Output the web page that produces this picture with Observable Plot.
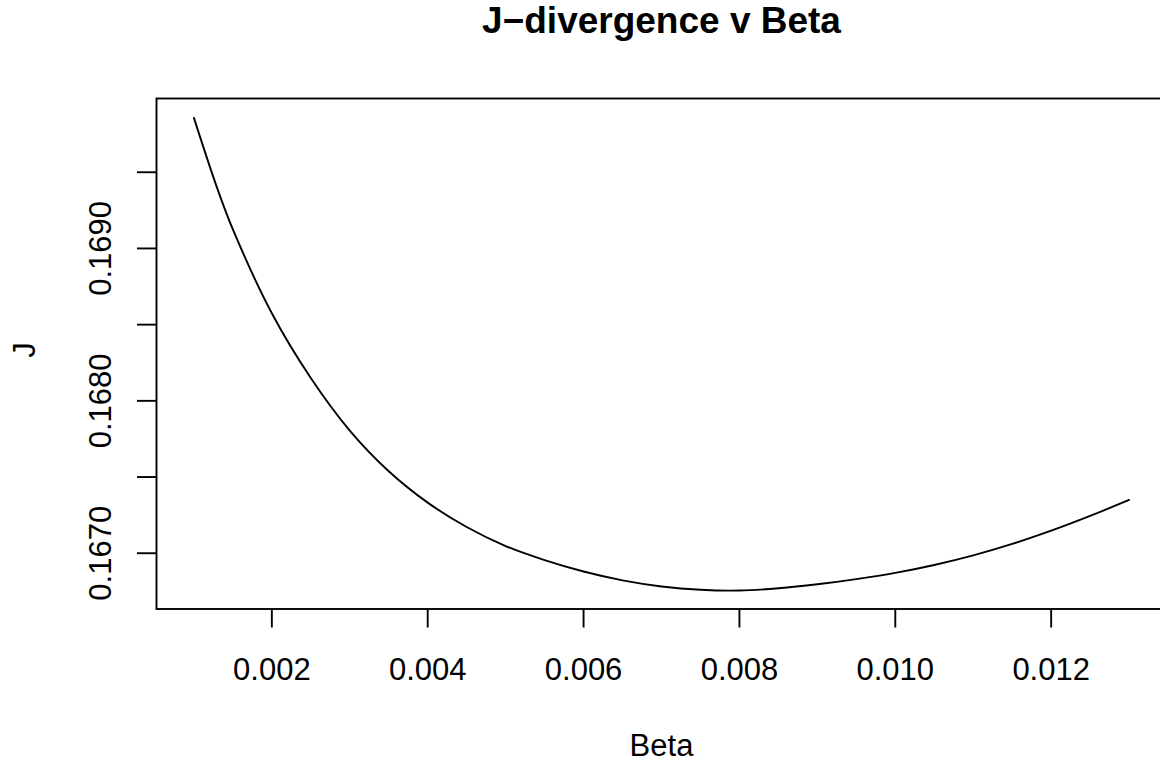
<!DOCTYPE html>
<html>
<head>
<meta charset="utf-8">
<script src="https://cdn.jsdelivr.net/npm/d3@7"></script>
<script src="https://cdn.jsdelivr.net/npm/@observablehq/plot@0.6"></script>
<style>
  html, body { margin: 0; padding: 0; background: white; overflow: hidden; }
  #chart { width: 1160px; height: 761px; overflow: hidden; }
</style>
</head>
<body>
<div id="chart"></div>
<script>
// Data
const beta = [0.0010, 0.0013, 0.0015, 0.0020, 0.0025, 0.0030, 0.0035, 0.0040, 0.0045, 0.0050,
              0.0055, 0.0060, 0.0065, 0.0070, 0.0075, 0.0080, 0.0085, 0.0090, 0.0095, 0.0100,
              0.0105, 0.0110, 0.0115, 0.0120, 0.0125, 0.0130];
const jValues = [0.169857, 0.169394, 0.169125, 0.168575, 0.168150, 0.167805, 0.167538, 0.167332, 0.167172, 0.167047,
                 0.166955, 0.166880, 0.166822, 0.166782, 0.166760, 0.166755, 0.166770, 0.166796, 0.166830, 0.166871,
                 0.166923, 0.166986, 0.167061, 0.167148, 0.167245, 0.167350];
const xTicks = [0.002, 0.004, 0.006, 0.008, 0.010, 0.012];
const yTicks = [0.1670, 0.1675, 0.1680, 0.1685, 0.1690, 0.1695];
const yTickLabels = [0.1670, 0.1680, 0.1690];
const titleText = "J\u2212divergence v Beta";
const xLabel = "Beta";
const yLabel = "J";

const data = beta.map((b, i) => ({beta: b, j: jValues[i]}));
const font = "'Liberation Sans', Arial, Helvetica, sans-serif";
const lw = 1.9;

const chart = Plot.plot({
  width: 1160,
  height: 761,
  marginLeft: 156,
  marginRight: -6,
  marginTop: 98,
  marginBottom: 152.5,
  style: {background: "white", color: "black", fontFamily: font},
  x: {domain: [0.00052, 0.01348], label: null},
  y: {domain: [0.166634, 0.169984], label: null},
  marks: [
    Plot.frame({stroke: "black", strokeWidth: lw}),
    Plot.axisX(xTicks, {tickSize: 19, tickPadding: 29.5, tickFormat: d3.format(".3f"),
                        fontSize: 31, strokeWidth: lw, label: null}),
    Plot.axisY(yTicks, {tickSize: 19, tickFormat: () => "", strokeWidth: lw, label: null}),
    Plot.axisY(yTickLabels, {tickSize: 0, tickPadding: 46, tickRotate: -90,
                             tickFormat: d3.format(".4f"), fontSize: 31, label: null}),
    Plot.line(data, {x: "beta", y: "j", curve: "catmull-rom", stroke: "black", strokeWidth: lw}),
    Plot.text([titleText], {frameAnchor: "top", dy: -65.5, lineAnchor: "bottom",
                            fontSize: 37, fontWeight: "bold", fill: "black"}),
    Plot.text([xLabel], {frameAnchor: "bottom", dy: 146.5, lineAnchor: "bottom",
                         fontSize: 31, fill: "black"}),
    Plot.text([yLabel], {frameAnchor: "left", dx: -122, dy: 4, rotate: -90, lineAnchor: "bottom",
                         fontSize: 31, fill: "black"})
  ]
});
document.getElementById("chart").appendChild(chart);
</script>
</body>
</html>
